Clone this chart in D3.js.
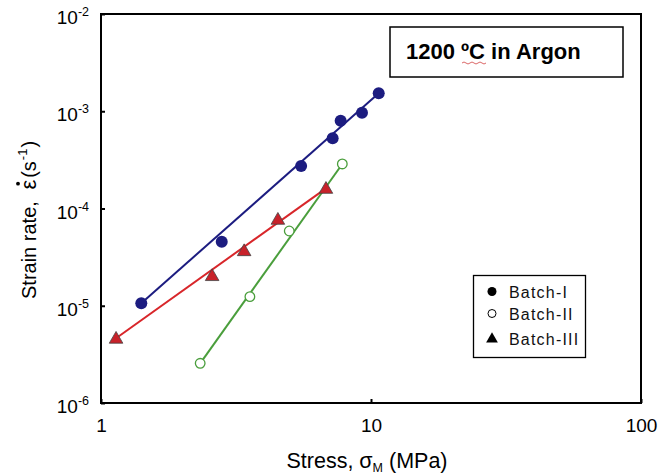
<!DOCTYPE html>
<html><head><meta charset="utf-8">
<script src="https://cdn.jsdelivr.net/npm/d3@7"></script>
<style>body{margin:0;background:#fff}svg{display:block;font-family:"Liberation Sans",Arial,sans-serif}</style>
</head><body><svg id="c" width="666" height="475"></svg>
<script>
// Data (stress MPa, strain rate 1/s)
const batchI_x = [1.41, 2.80, 5.51, 7.21, 7.72, 9.26, 10.68];
const batchI_y = [1.06e-5, 4.56e-5, 2.74e-4, 5.27e-4, 8.0e-4, 9.66e-4, 1.53e-3];
const batchII_x = [2.33, 3.56, 4.98, 7.83];
const batchII_y = [2.56e-6, 1.24e-5, 5.87e-5, 2.87e-4];
const batchIII_x = [1.137, 2.58, 3.39, 4.52, 6.81];
const batchIII_y = [4.63e-6, 2.04e-5, 3.68e-5, 7.74e-5, 1.61e-4];
// fitted lines (endpoints)
const fitI = [[1.41, 1.06e-5], [10.68, 1.53e-3]];
const fitII = [[2.33, 2.56e-6], [7.83, 2.87e-4]];
const fitIII = [[1.137, 4.63e-6], [6.81, 1.61e-4]];
const xTicks = [1, 10, 100];
const yTicks = [1e-6, 1e-5, 1e-4, 1e-3, 1e-2];
const yTickExp = ["-6", "-5", "-4", "-3", "-2"];
const legendLabels = ["Batch-I", "Batch-II", "Batch-III"];

const svg = d3.select("#c");
const L = 101, R = 641, T = 14, B = 403;
const x = d3.scaleLog().domain([1, 100]).range([L, R]);
const y = d3.scaleLog().domain([1e-6, 1e-2]).range([B, T]);

const navy = "#1c1c80", red = "#d8262a", green = "#4a9e3c";

// axes
const xAxis = d3.axisBottom(x).tickValues(xTicks).tickSize(-4).tickFormat(d => d);
const gx = svg.append("g").attr("transform", `translate(0,${B})`).call(xAxis);
gx.selectAll("text").attr("font-size", 19).attr("fill", "#000").attr("dy", 0).attr("y", 29).attr("font-family", "Liberation Sans, Arial, sans-serif");
const yAxis = d3.axisLeft(y).tickValues(yTicks).tickSize(-4).tickFormat("");
const gy = svg.append("g").attr("transform", `translate(${L},0)`).call(yAxis);
[gx, gy].forEach(g => { g.select(".domain").remove(); g.selectAll("line").attr("stroke", "#000").attr("stroke-width", 2); });
// y tick labels with superscripts
yTicks.forEach((v, i) => {
  const t = svg.append("text").attr("x", 89).attr("y", y(v) + 10).attr("text-anchor", "end")
    .attr("font-size", 19).attr("fill", "#000");
  t.append("tspan").text("10");
  t.append("tspan").attr("font-size", 12.5).attr("dy", -8).text(yTickExp[i]);
});
// frame
svg.append("rect").attr("x", L).attr("y", T).attr("width", R - L).attr("height", B - T)
  .attr("fill", "none").attr("stroke", "#000").attr("stroke-width", 2);

// lines
const line = d3.line().x(d => x(d[0])).y(d => y(d[1]));
svg.append("path").datum(fitI).attr("d", line).attr("stroke", navy).attr("stroke-width", 2).attr("fill", "none");
svg.append("path").datum(fitIII).attr("d", line).attr("stroke", red).attr("stroke-width", 2).attr("fill", "none");
svg.append("path").datum(fitII).attr("d", line).attr("stroke", green).attr("stroke-width", 2).attr("fill", "none");

// markers
const tri = d3.symbol().type(d3.symbolTriangle).size(80);
svg.selectAll(".p3").data(batchIII_x.map((v, i) => [v, batchIII_y[i]])).join("path")
  .attr("d", tri).attr("transform", d => `translate(${x(d[0])},${y(d[1]) + 1})`)
  .attr("fill", "#c8222a").attr("stroke", "#444").attr("stroke-width", 0.8);
svg.selectAll(".p1").data(batchI_x.map((v, i) => [v, batchI_y[i]])).join("circle")
  .attr("cx", d => x(d[0])).attr("cy", d => y(d[1])).attr("r", 6).attr("fill", navy);
svg.selectAll(".p2").data(batchII_x.map((v, i) => [v, batchII_y[i]])).join("circle")
  .attr("cx", d => x(d[0])).attr("cy", d => y(d[1])).attr("r", 4.8).attr("fill", "#fff").attr("stroke", green).attr("stroke-width", 1.3);

// title box
svg.append("rect").attr("x", 390).attr("y", 27).attr("width", 233).attr("height", 50)
  .attr("fill", "#fff").attr("stroke", "#000").attr("stroke-width", 1.5);
svg.append("text").attr("x", 406).attr("y", 59).attr("font-size", 22).attr("font-weight", "bold").attr("fill", "#000")
  .text("1200 \u00BAC in Argon");
svg.append("path").attr("d", "M462,63 q2,-2 4,0 t4,0 t4,0 t4,0 t4,0 t4,0")
  .attr("fill", "none").attr("stroke", "#d04040").attr("stroke-width", 0.8);

// legend
svg.append("rect").attr("x", 473.5).attr("y", 275.5).attr("width", 112).attr("height", 82)
  .attr("fill", "#fff").attr("stroke", "#000").attr("stroke-width", 1.3);
const ly = [291.5, 313.5, 339];
svg.append("circle").attr("cx", 492).attr("cy", ly[0]).attr("r", 4.5).attr("fill", "#000");
svg.append("circle").attr("cx", 492).attr("cy", ly[1]).attr("r", 4).attr("fill", "#fff").attr("stroke", "#000").attr("stroke-width", 1);
svg.append("path").attr("d", d3.symbol().type(d3.symbolTriangle).size(60)).attr("transform", `translate(492,${ly[2]})`).attr("fill", "#000");
legendLabels.forEach((s, i) => svg.append("text").attr("x", 509).attr("y", ly[i] + 6).attr("font-size", 16)
  .attr("letter-spacing", 1.2).attr("fill", "#111").text(s));

// axis titles
const xt = svg.append("text").attr("x", 367).attr("y", 468).attr("text-anchor", "middle").attr("font-size", 21.5).attr("fill", "#000");
xt.append("tspan").text("Stress, σ");
xt.append("tspan").attr("font-size", 12.5).attr("dy", 4).text("M");
xt.append("tspan").attr("dy", -4).text(" (MPa)");
const yg = svg.append("g").attr("transform", "translate(36,299) rotate(-90)");
const yt = yg.append("text").attr("text-anchor", "start").attr("font-size", 20).attr("fill", "#000");
yt.append("tspan").text("Strain rate, ");
yt.append("tspan").attr("dx", 6).attr("font-size", 22).text("ε");
yt.append("tspan").attr("dx", 2).text("(s");
yt.append("tspan").attr("font-size", 13).attr("dy", -9).attr("dx", 1).text("-1");
yt.append("tspan").attr("dy", 9).attr("dx", 1).text(")");
// dot above epsilon
const node = yt.node();
const epsIdx = "Strain rate, ".length;
const ext = node.getExtentOfChar(epsIdx);
yg.append("circle").attr("cx", ext.x + ext.width / 2 + 1).attr("cy", ext.y + 2).attr("r", 1.9).attr("fill", "#000");
</script></body></html>
